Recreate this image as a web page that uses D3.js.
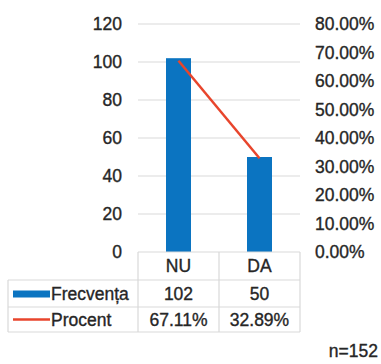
<!DOCTYPE html>
<html>
<head>
<meta charset="utf-8">
<script src="https://cdn.jsdelivr.net/npm/d3@7"></script>
<style>
  html, body { margin: 0; padding: 0; background: #fff; }
  svg { display: block; font-family: "Liberation Sans", Arial, sans-serif; }
  svg text { stroke: #262626; stroke-width: 0.35px; }
</style>
</head>
<body>
<svg id="chart" width="381" height="364"></svg>
<script>
// Answer categories and their counts / shares
const categories = ["NU", "DA"];
const frecventa = [102, 50];
const procent = [67.11, 32.89];
const countTicks = [0, 20, 40, 60, 80, 100, 120];
const percentTicks = [0, 10, 20, 30, 40, 50, 60, 70, 80];
const seriesNames = ["Frecvența", "Procent"];
const sampleNote = "n=152";

const svg = d3.select("#chart");
const plot = { left: 138, right: 300, top: 24, bottom: 252 };
const blue = "#0b74c1", red = "#e8452c", grid = "#d9d9d9", txt = "#262626";
const fs = 17.5;

const x = d3.scaleBand().domain(categories).range([plot.left, plot.right]);
const yL = d3.scaleLinear().domain([0, 120]).range([plot.bottom, plot.top]);
const yR = d3.scaleLinear().domain([0, 80]).range([plot.bottom, plot.top]);

// Horizontal gridlines
svg.append("g").selectAll("line").data(countTicks.filter(d => d > 0)).join("line")
  .attr("x1", plot.left).attr("x2", plot.right)
  .attr("y1", d => yL(d)).attr("y2", d => yL(d))
  .attr("stroke", grid).attr("stroke-width", 1.2);

// Left axis (counts)
const axL = svg.append("g").attr("transform", `translate(${plot.left - 16},0)`)
  .call(d3.axisLeft(yL).tickValues(countTicks).tickSize(0).tickPadding(0));
axL.select(".domain").remove();
axL.selectAll("text").attr("font-size", fs).attr("fill", txt)
  .attr("font-family", "Liberation Sans, Arial, sans-serif");

// Right axis (percent)
const axR = svg.append("g").attr("transform", `translate(${plot.right + 15},0)`)
  .call(d3.axisRight(yR).tickValues(percentTicks).tickSize(0).tickPadding(0)
    .tickFormat(d => d.toFixed(2) + "%"));
axR.select(".domain").remove();
axR.selectAll("text").attr("font-size", fs).attr("fill", txt)
  .attr("font-family", "Liberation Sans, Arial, sans-serif");

// Bars
const barW = 25;
svg.append("g").selectAll("rect").data(categories).join("rect")
  .attr("x", d => x(d) + x.bandwidth() / 2 - barW / 2)
  .attr("width", barW)
  .attr("y", (d, i) => yL(frecventa[i]))
  .attr("height", (d, i) => plot.bottom - yL(frecventa[i]))
  .attr("fill", blue);

// Percent line
const line = d3.line()
  .x((d, i) => x(categories[i]) + x.bandwidth() / 2)
  .y(d => yR(d));
svg.append("path").datum(procent).attr("d", line)
  .attr("fill", "none").attr("stroke", red).attr("stroke-width", 2.5);

// Data table below the plot
const rowH = [28, 27, 25];
const rowY = [plot.bottom];
rowH.forEach((h, i) => rowY.push(rowY[i] + h));
const tableLeft = 8;
const tb = svg.append("g").attr("stroke", grid).attr("stroke-width", 1.2);
// horizontal borders
tb.append("line").attr("x1", plot.left).attr("x2", plot.right).attr("y1", rowY[0]).attr("y2", rowY[0]);
for (let i = 1; i < rowY.length; i++) {
  tb.append("line").attr("x1", tableLeft).attr("x2", plot.right).attr("y1", rowY[i]).attr("y2", rowY[i]);
}
// vertical borders
tb.append("line").attr("x1", tableLeft).attr("x2", tableLeft).attr("y1", rowY[1]).attr("y2", rowY[3]);
[plot.left, x("DA"), plot.right].forEach(xx => {
  tb.append("line").attr("x1", xx).attr("x2", xx).attr("y1", rowY[0]).attr("y2", rowY[3]);
});

const cellText = (tx, ty, s, anchor) => svg.append("text")
  .attr("x", tx).attr("y", ty).attr("dy", "0.36em")
  .attr("text-anchor", anchor).attr("font-size", fs).attr("fill", txt).text(s);

categories.forEach((c, i) => {
  const cx = x(c) + x.bandwidth() / 2;
  cellText(cx, (rowY[0] + rowY[1]) / 2, c, "middle");
  cellText(cx, (rowY[1] + rowY[2]) / 2, String(frecventa[i]), "middle");
  cellText(cx, (rowY[2] + rowY[3]) / 2, procent[i].toFixed(2) + "%", "middle");
});

// Legend keys inside the table
const keyX0 = 13, keyX1 = 50;
const yF = (rowY[1] + rowY[2]) / 2, yP = (rowY[2] + rowY[3]) / 2;
svg.append("rect").attr("x", keyX0).attr("y", yF - 3).attr("width", keyX1 - keyX0).attr("height", 7).attr("fill", blue);
svg.append("line").attr("x1", keyX0).attr("x2", keyX1).attr("y1", yP).attr("y2", yP)
  .attr("stroke", red).attr("stroke-width", 2.5);
cellText(keyX1 + 1, yF, seriesNames[0], "start");
cellText(keyX1 + 1, yP, seriesNames[1], "start");

// Sample size note
svg.append("text").attr("x", 378).attr("y", 351).attr("dy", "0.36em")
  .attr("text-anchor", "end").attr("font-size", fs).attr("fill", txt).text(sampleNote);
</script>
</body>
</html>
